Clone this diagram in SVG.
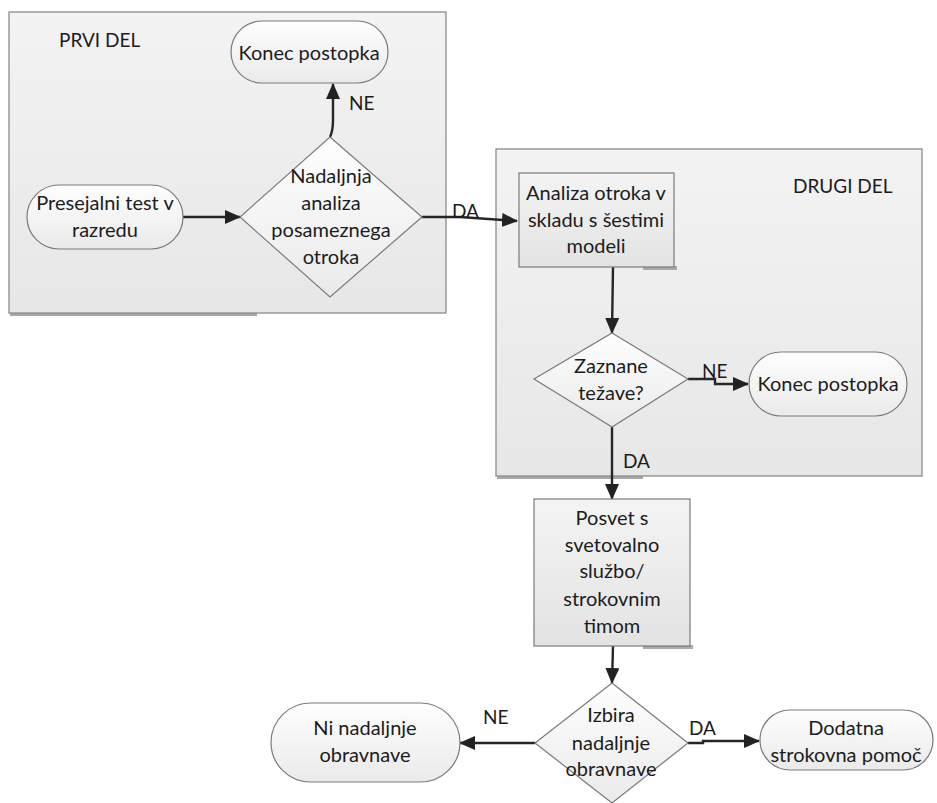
<svg xmlns="http://www.w3.org/2000/svg" width="937" height="803" viewBox="0 0 937 803">
  <defs>
    <linearGradient id="gPanel" x1="0" y1="0" x2="0" y2="1">
      <stop offset="0" stop-color="#f3f3f3"/>
      <stop offset="1" stop-color="#e7e7e7"/>
    </linearGradient>
    <linearGradient id="gNode" x1="0" y1="0" x2="0" y2="1">
      <stop offset="0" stop-color="#fefefe"/>
      <stop offset="1" stop-color="#eaeaea"/>
    </linearGradient>
    <linearGradient id="gBox" x1="0" y1="0" x2="0" y2="1">
      <stop offset="0" stop-color="#f4f4f4"/>
      <stop offset="1" stop-color="#e3e3e3"/>
    </linearGradient>
    <marker id="arrow" markerUnits="userSpaceOnUse" markerWidth="16" markerHeight="14" refX="15" refY="7" orient="auto">
      <path d="M0,0 L16,7 L0,14 Z" fill="#222"/>
    </marker>
    <style>
      text { font-family: "Lato", "Liberation Sans", sans-serif; fill: #1c1c1c; }
      .lbl { font-size: 20px; text-anchor: middle; }
      .tag { font-size: 19px; }
      .panel { fill: url(#gPanel); stroke: #8c8c8c; stroke-width: 1.3; }
      .term { fill: url(#gNode); stroke: #7a7a7a; stroke-width: 1.2; }
      .dec { fill: url(#gNode); stroke: #7a7a7a; stroke-width: 1.2; }
      .box { fill: url(#gBox); stroke: #7a7a7a; stroke-width: 1.2; }
      .shadow { fill: #a8a8a8; }
      .conn { fill: none; stroke: #262626; stroke-width: 2.4; marker-end: url(#arrow); }
    </style>
  </defs>

  <!-- section panels -->
  <g id="prvi-del">
    <rect class="shadow" x="10" y="312" width="247" height="4"/>
    <rect class="panel" x="9" y="12" width="437" height="301"/>
    <text class="tag" x="59" y="47">PRVI DEL</text>
  </g>
  <g id="drugi-del">
    <rect class="shadow" x="497" y="476" width="146" height="3"/>
    <rect class="panel" x="496" y="149" width="426" height="327"/>
    <text class="tag" x="793" y="193">DRUGI DEL</text>
  </g>

  <!-- connectors -->
  <g id="connectors">
    <path class="conn" d="M183,217 L240,217"/>
    <path class="conn" d="M330,137 Q333,131 333,120 L333,84"/>
    <path class="conn" d="M422,217 L460,217 L517,221"/>
    <path class="conn" d="M613,267 L612,333"/>
    <path class="conn" d="M688,379 L715,379 L715,384 L748,384"/>
    <path class="conn" d="M612,427 L612,499"/>
    <path class="conn" d="M613,646 L612,683"/>
    <path class="conn" d="M535,743 L460,743"/>
    <path class="conn" d="M688,743 L703,743 L703,741 L759,741"/>
    <text class="tag" x="349" y="110">NE</text>
    <text class="tag" x="452" y="218">DA</text>
    <text class="tag" x="702" y="378">NE</text>
    <text class="tag" x="623" y="468">DA</text>
    <text class="tag" x="483" y="724">NE</text>
    <text class="tag" x="689" y="735">DA</text>
  </g>

  <!-- nodes -->
  <g id="konec-postopka-1">
    <rect class="term" x="231" y="21" width="157" height="62" rx="31"/>
    <text class="lbl" x="309" y="60">Konec postopka</text>
  </g>
  <g id="presejalni-test">
    <rect class="term" x="27" y="185" width="156" height="64" rx="32"/>
    <text class="lbl" x="105" y="210">Presejalni test v</text>
    <text class="lbl" x="105" y="237">razredu</text>
  </g>
  <g id="nadaljnja-analiza">
    <polygon class="dec" points="330,137 422,217 330,297 240,217"/>
    <text class="lbl" x="331" y="183">Nadaljnja</text>
    <text class="lbl" x="331" y="210">analiza</text>
    <text class="lbl" x="331" y="237">posameznega</text>
    <text class="lbl" x="331" y="264">otroka</text>
  </g>
  <g id="analiza-otroka">
    <rect class="shadow" x="643" y="266" width="34" height="4"/>
    <rect class="box" x="519" y="173" width="155" height="94"/>
    <text class="lbl" x="596" y="200">Analiza otroka v</text>
    <text class="lbl" x="596" y="227">skladu s šestimi</text>
    <text class="lbl" x="596" y="253">modeli</text>
  </g>
  <g id="zaznane-tezave">
    <polygon class="dec" points="612,333 688,379 612,427 534,379"/>
    <text class="lbl" x="611" y="373">Zaznane</text>
    <text class="lbl" x="611" y="400">težave?</text>
  </g>
  <g id="konec-postopka-2">
    <rect class="term" x="749" y="352" width="158" height="64" rx="32"/>
    <text class="lbl" x="828" y="391">Konec postopka</text>
  </g>
  <g id="posvet">
    <rect class="shadow" x="643" y="645" width="50" height="4"/>
    <rect class="box" x="534" y="499" width="156" height="147"/>
    <text class="lbl" x="612" y="525">Posvet s</text>
    <text class="lbl" x="612" y="552">svetovalno</text>
    <text class="lbl" x="612" y="578">službo/</text>
    <text class="lbl" x="612" y="606">strokovnim</text>
    <text class="lbl" x="612" y="633">timom</text>
  </g>
  <g id="izbira-obravnave">
    <polygon class="dec" points="612,683 688,743 612,803 535,743"/>
    <text class="lbl" x="611" y="722">Izbira</text>
    <text class="lbl" x="611" y="750">nadaljnje</text>
    <text class="lbl" x="611" y="776">obravnave</text>
  </g>
  <g id="ni-nadaljnje">
    <rect class="term" x="271" y="703" width="189" height="79" rx="39.5"/>
    <text class="lbl" x="365" y="735">Ni nadaljnje</text>
    <text class="lbl" x="365" y="762">obravnave</text>
  </g>
  <g id="dodatna-pomoc">
    <rect class="term" x="760" y="710" width="173" height="60" rx="30"/>
    <text class="lbl" x="846" y="735">Dodatna</text>
    <text class="lbl" x="846" y="762">strokovna pomoč</text>
  </g>
</svg>
